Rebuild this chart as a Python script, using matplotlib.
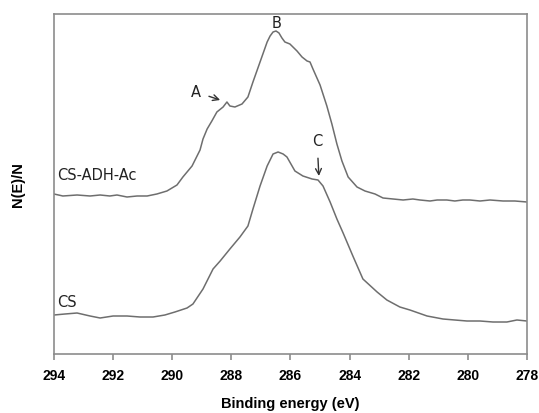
import matplotlib
matplotlib.use("Agg")
import matplotlib.pyplot as plt

# Binding energy (eV) and intensity (arbitrary units) for each spectrum
energy_adh = [294.00, 293.70, 293.22, 292.78, 292.44, 292.11, 291.87, 291.53, 291.19, 290.85,
              290.52, 290.18, 289.84, 289.64, 289.33, 289.06, 288.96, 288.82, 288.66, 288.49,
              288.28, 288.15, 288.05, 287.88, 287.64, 287.44, 287.27, 287.03, 286.79, 286.69,
              286.59, 286.49, 286.39, 286.29, 286.19, 286.02, 285.78, 285.61, 285.44, 285.34,
              285.24, 285.00, 284.77, 284.60, 284.43, 284.26, 284.05, 283.75, 283.48, 283.14,
              282.87, 282.53, 282.19, 281.86, 281.62, 281.28, 281.04, 280.71, 280.44, 280.17,
              279.93, 279.59, 279.25, 278.81, 278.41, 278.00]
intensity_adh = [160, 158, 159, 158, 159, 158, 159, 157, 158, 158,
                 160, 163, 169, 177, 188, 204, 215, 225, 233, 242,
                 247, 252, 248, 247, 250, 257, 272, 292, 312, 318,
                 322, 323, 321, 316, 312, 310, 303, 297, 293, 292,
                 285, 269, 248, 230, 210, 193, 177, 167, 163, 160,
                 156, 155, 154, 155, 154, 153, 154, 154, 153, 154,
                 154, 153, 154, 153, 153, 152]

energy_cs = [294.00, 293.63, 293.22, 292.78, 292.44, 292.00, 291.53, 291.09, 290.65, 290.25,
             289.91, 289.50, 289.30, 288.96, 288.62, 288.38, 288.05, 287.71, 287.44, 287.27,
             287.03, 286.79, 286.59, 286.42, 286.25, 286.12, 285.85, 285.58, 285.27, 285.07,
             284.90, 284.66, 284.43, 284.22, 283.89, 283.55, 283.07, 282.74, 282.30, 281.96,
             281.38, 280.84, 280.44, 280.03, 279.59, 279.15, 278.68, 278.34, 278.00]
intensity_cs = [39, 40, 41, 38, 36, 38, 38, 37, 37, 39,
                42, 46, 50, 65, 85, 93, 105, 117, 128, 145,
                168, 188, 200, 202, 200, 197, 183, 178, 175, 174,
                168, 152, 135, 121, 98, 75, 62, 54, 47, 44,
                38, 35, 34, 33, 33, 32, 32, 34, 33]

series_labels = ["CS-ADH-Ac", "CS"]
x_ticks = [294, 292, 290, 288, 286, 284, 282, 280, 278]

fig = plt.figure(figsize=(5.39, 4.14), dpi=100)
ax = fig.add_axes([0.1002, 0.1425, 0.8775, 0.8213])

line_color = "#6e6e6e"
ax.plot(energy_adh, intensity_adh, color=line_color, lw=1.1)
ax.plot(energy_cs, intensity_cs, color=line_color, lw=1.1)

ax.set_xlim(294, 278)
ax.set_ylim(0, 340)
ax.set_xticks(x_ticks)
ax.set_xticklabels([str(t) for t in x_ticks], fontweight="bold",
                   family="Liberation Sans", fontsize=10)
ax.set_yticks([])

for s in ax.spines.values():
    s.set_color("#8c8c8c")
    s.set_linewidth(1.2)
ax.tick_params(axis="x", direction="out", color="#8c8c8c", length=4, width=1.2, pad=6)

ax.set_xlabel("Binding energy (eV)", fontweight="bold", family="Liberation Sans",
              fontsize=10.5, labelpad=10)
ax.set_ylabel("N(E)/N", fontweight="bold", family="Liberation Sans", fontsize=10.5,
              labelpad=21)

tfont = dict(family="DejaVu Sans", fontsize=10.5, color="#222222")
ax.text(293.9, 179, series_labels[0], ha="left", va="center", **tfont)
ax.text(293.9, 53, series_labels[1], ha="left", va="center", **tfont)

arrow = dict(arrowstyle="->", color="#333333", lw=1.0, shrinkA=2, shrinkB=0)
ax.annotate("A", xy=(288.38, 254), xytext=(289.20, 262), ha="center", va="center",
            arrowprops=dict(arrow, shrinkA=4), **tfont)
ax.text(286.48, 331, "B", ha="center", va="center", **tfont)
ax.annotate("C", xy=(285.04, 178), xytext=(285.10, 213), ha="center", va="center",
            arrowprops=dict(arrow, shrinkA=5), **tfont)

fig.savefig("out.png", dpi=100)
